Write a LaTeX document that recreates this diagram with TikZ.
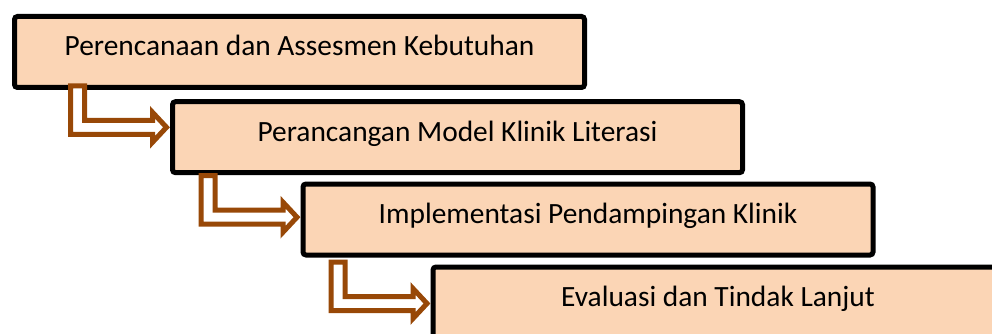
\documentclass[tikz,border=0pt]{standalone}
\usepackage{fontspec}
\setmainfont{Carlito}
\usetikzlibrary{calc}
\definecolor{boxfill}{HTML}{FBD5B5}
\definecolor{arrowbrown}{HTML}{984807}
\tikzset{
  stepbox/.style={draw=black, fill=boxfill, line width=5pt, rounded corners=3pt,
    outer sep=0pt, inner sep=0pt, minimum width=570pt, minimum height=71pt,
    anchor=north west, text height=20pt, text depth=12.4pt, text=black,
    font=\fontsize{29.4}{35}\selectfont},
  brarrow/.style={draw=arrowbrown, fill=white, line width=5pt, miter limit=10}
}
% #1 from node, #2 to node, #3 canvas shift of the arrow top from #1.south
\newcommand\bentarrow[3]{%
  \draw[brarrow] let \p1=([xshift=-95pt]#2.west), \p2=([yshift=#3]#1.south),
      \p3=([xshift=-2.5pt]#2.west), \p4=([yshift=#3-44pt]#1.south) in
    (\x1-7pt,\y2-2.5pt) -- (\x1+7pt,\y2-2.5pt) -- (\x1+7pt,\y4+7pt)
    -- (\x3-17.5pt,\y4+7pt) -- (\x3-17.5pt,\y4+15pt) -- (\x3-3.5pt,\y4)
    -- (\x3-17.5pt,\y4-15pt) -- (\x3-17.5pt,\y4-7pt) -- (\x1-7pt,\y4-7pt) -- cycle;}
\begin{document}
\begin{tikzpicture}[x=1pt,y=-1pt]
\useasboundingbox (0,0) rectangle (992,334);
\clip (0,0) rectangle (992,334);
\node[stepbox] (b1) at (14.5,16.5) {Perencanaan dan Assesmen Kebutuhan};
\node[stepbox] (b2) at (172.5,101.7) {Perancangan Model Klinik Literasi};
\node[stepbox] (b3) at (303,184) {Implementasi Pendampingan Klinik};
\node[stepbox] (b4) at (433,267) {Evaluasi dan Tindak Lanjut};
\bentarrow{b1}{b2}{4.2pt}
\bentarrow{b2}{b3}{-0.5pt}
\bentarrow{b3}{b4}{-4.5pt}
\end{tikzpicture}
\end{document}
